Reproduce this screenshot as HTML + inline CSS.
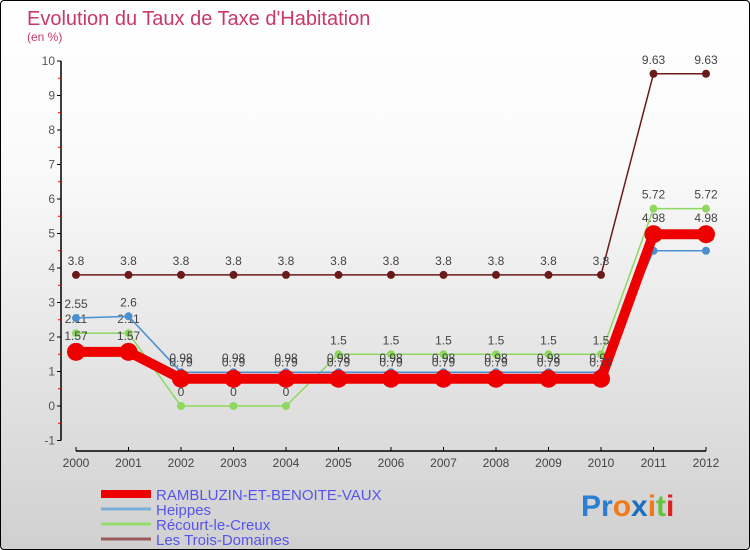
<!DOCTYPE html>
<html><head><meta charset="utf-8"><style>
body{margin:0}
#c{width:748px;height:548px;border:1px solid #000;border-radius:4px;overflow:hidden;background:linear-gradient(#fff,#fafafa 30%,#d0d0d0);position:relative;font-family:"Liberation Sans",sans-serif}
</style></head><body>
<div id="c">
<svg id="s" width="748" height="548" xmlns="http://www.w3.org/2000/svg">
<text x="26" y="24" font-size="20" fill="#c8386a">Evolution du Taux de Taxe d'Habitation</text>
<text x="26" y="40" font-size="12" fill="#c8386a">(en %)</text>
<text x="580" y="515" font-size="30" font-weight="bold" fill="#2a7fd0">Pr<tspan fill="#f07a1a">o</tspan><tspan fill="#1a6fc0">x</tspan><tspan fill="#f07a1a">i</tspan><tspan fill="#66c23a">t</tspan><tspan fill="#e02020">i</tspan></text>
</svg>
</div>
<script>
const years=[2000,2001,2002,2003,2004,2005,2006,2007,2008,2009,2010,2011,2012];
const yTicks=[-1,0,1,2,3,4,5,6,7,8,9,10];
const rambluzin=[1.57,1.57,0.79,0.79,0.79,0.79,0.79,0.79,0.79,0.79,0.79,4.98,4.98];
const heippes=[2.55,2.6,0.98,0.98,0.98,0.98,0.98,0.98,0.98,0.98,0.98,4.5,4.5];
const recourt=[2.11,2.11,0,0,0,1.5,1.5,1.5,1.5,1.5,1.5,5.72,5.72];
const trois=[3.8,3.8,3.8,3.8,3.8,3.8,3.8,3.8,3.8,3.8,3.8,9.63,9.63];
const names=["RAMBLUZIN-ET-BENOITE-VAUX","Heippes","Récourt-le-Creux","Les Trois-Domaines"];
const s=document.getElementById('s');const NS='http://www.w3.org/2000/svg';
const X=i=>75+i*52.5, Y=v=>405-v*34.5;
function el(t,a,p){const e=document.createElementNS(NS,t);for(const k in a)e.setAttribute(k,a[k]);(p||s).appendChild(e);return e;}
let ax=el('line',{x1:60,y1:Y(10),x2:60,y2:Y(-1),stroke:'#000','stroke-width':1.5});

yTicks.forEach(v=>{
 el('line',{x1:56,x2:60,y1:Y(v),y2:Y(v),stroke:'#000'});
 if(v<10)el('line',{x1:57,x2:60,y1:Y(v+0.5),y2:Y(v+0.5),stroke:'#e00'});
 let t=el('text',{x:54,y:Y(v)+4,'font-size':12,fill:'#555','text-anchor':'end'});t.textContent=v;
 
});
let xa=el('line',{x1:X(0),x2:X(12),y1:450,y2:450,stroke:'#000','stroke-width':1.5});

years.forEach((y,i)=>{
 el('line',{x1:X(i),x2:X(i),y1:446,y2:450,stroke:'#000'});
 let t=el('text',{x:X(i),y:466,'font-size':12,fill:'#444','text-anchor':'middle'});t.textContent=y;
 
});
function fmt(v){return String(v);}
function series(d,col,w,r,nm,labOff){
 const g=el('g',{});
 el('polyline',{points:d.map((v,i)=>X(i)+','+Y(v)).join(' '),fill:'none',stroke:col,'stroke-width':w,'stroke-linejoin':'round'},g);
 d.forEach((v,i)=>{
  const c=el('circle',{cx:X(i),cy:Y(v),r:r,fill:col},g);
  
  const t=el('text',{x:X(i),y:Y(v)-labOff,'font-size':12,fill:'#444','text-anchor':'middle'},g);t.textContent=fmt(v);
 });
}
series(trois,'#6b1a1a',1.5,4,'series-les-trois-domaines',10);
series(recourt,'#8ed860',1.5,4,'series-recourt-le-creux',10);
series(heippes,'#4a90d0',1.5,4,'series-heippes',10);
series(rambluzin,'#ee0000',10,9,'series-rambluzin',12);
const cols=['#ee0000','#7aaed8','#98dc70','#9a5a5a'],ws=[8,3,3,3];
names.forEach((n,i)=>{
 const y=493+i*15;
 const l=el('line',{x1:100,x2:150,y1:y,y2:y,stroke:cols[i],'stroke-width':ws[i]});
 
 const t=el('text',{x:155,y:y+6,'font-size':15,fill:'#5555ee'});t.textContent=n;
 
});
</script>
</body></html>
